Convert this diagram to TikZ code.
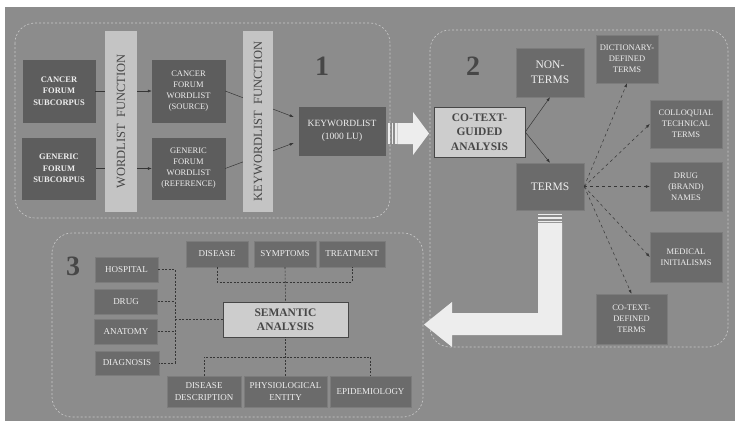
\documentclass[tikz,border=0pt]{standalone}
\usepackage{fontspec}
\setmainfont{Liberation Serif}
\usetikzlibrary{arrows.meta, calc}

\definecolor{bggray}{HTML}{8C8C8C}
\definecolor{boxdark}{HTML}{5D5D5D}
\definecolor{boxmid}{HTML}{6B6B6B}
\definecolor{boxline}{HTML}{7C7C7C}
\definecolor{boxlight}{HTML}{CDCDCD}
\definecolor{barfill}{HTML}{C4C4C4}
\definecolor{arrowfill}{HTML}{EDEDED}
\definecolor{txtlight}{HTML}{EEEEEE}
\definecolor{txtdark}{HTML}{474747}
\definecolor{panelline}{HTML}{C9C9C9}
\definecolor{connline}{HTML}{363636}

\newcommand\fs[2]{\fontsize{#1}{#2}\selectfont}

\begin{document}
\begin{tikzpicture}[x=1pt, y=-1pt, >={Latex[length=4pt,width=3pt]},
  box/.style={draw=boxline, fill=boxmid, text=txtlight, align=center, inner sep=0pt, font=\fs{8.5}{11}},
  srcbox/.style={box, fill=boxdark, draw=boxdark, font=\fs{8.5}{11.5}\bfseries},
  lightbox/.style={box, fill=boxlight, draw=txtdark, text=txtdark, font=\fs{11.5}{14.5}\bfseries},
  bar/.style={fill=barfill, text=txtdark, inner sep=0pt, rotate=90, font=\fs{12.5}{14}},
  panel/.style={draw=panelline, dash pattern=on 2pt off 2pt, line width=.6pt, rounded corners=20pt},
  num/.style={text=txtdark, font=\fs{28}{28}\bfseries},
  conn/.style={draw=connline, line width=.5pt, ->},
  dconn/.style={conn, dashed},
  link/.style={draw=connline, line width=.6pt, dash pattern=on 2pt off 1.5pt}]

  \useasboundingbox (0,0) rectangle (735,421);
  \fill[white] (0,0) rectangle (735,421);
  \fill[bggray] (5,7) rectangle (735,421);

  % panels
  \draw[panel] (15,23) rectangle (390,218);
  \draw[panel] (430,30) rectangle (728,347);
  \draw[panel] (52,233) rectangle (423,417);

  % 1: wordlists
  \node[num] (n1) at (322,66) {1};
  \node[srcbox, minimum width=72, minimum height=62] (canc) at (59,91) {CANCER\\FORUM\\SUBCORPUS};
  \node[srcbox, minimum width=73, minimum height=61] (gen) at (59,168.5) {GENERIC\\FORUM\\SUBCORPUS};
  \node[box, fill=boxdark, draw=boxdark, minimum width=73, minimum height=62] (cwl) at (188.5,91) {CANCER\\FORUM\\WORDLIST\\(SOURCE)};
  \node[box, fill=boxdark, draw=boxdark, minimum width=73, minimum height=61] (gwl) at (188.5,168.5) {GENERIC\\FORUM\\WORDLIST\\(REFERENCE)};
  \node[box, fill=boxdark, draw=boxdark, minimum width=86, minimum height=48, font=\fs{9.5}{13}] (kwl) at (342,131) {KEYWORDLIST\\(1000 LU)};
  \draw[conn] (canc) -- (cwl);
  \draw[conn] (gen) -- (gwl);
  \draw[conn] (cwl.east) -- ($(kwl.west)+(-5,-14)$);
  \draw[conn] (gwl.east) -- ($(kwl.west)+(-5,12)$);
  \node[bar, minimum width=181, minimum height=32] (wlf) at (121,121.5) {WORDLIST\ \ FUNCTION};
  \node[bar, minimum width=181, minimum height=30] (kwf) at (258,121.5) {KEYWORDLIST\ \ FUNCTION};

  % arrow 1 -> 2
  \foreach \s in {388.3,391.7,395}
    \fill[arrowfill] (\s,123) rectangle +(1.7,21);
  \fill[arrowfill] (397.3,123) -- (413,123) -- (413,112) -- (429,133.5) -- (413,155) -- (413,144) -- (397.3,144) -- cycle;

  % 2: co-text
  \node[num] (n2) at (473,66) {2};
  \node[lightbox, minimum width=91, minimum height=50] (cga) at (479.5,132) {CO-TEXT-\\GUIDED\\ANALYSIS};
  \node[box, minimum width=68, minimum height=49, font=\fs{11.5}{15}] (nont) at (550,72.5) {NON-\\TERMS};
  \node[box, minimum width=68, minimum height=47, font=\fs{11.5}{15}] (terms) at (550,186.5) {TERMS};
  \node[box, minimum width=62, minimum height=48] (dict) at (627,59) {DICTIONARY-\\DEFINED\\TERMS};
  \node[box, minimum width=72, minimum height=48] (coll) at (686,124) {COLLOQUIAL\\TECHNICAL\\TERMS};
  \node[box, minimum width=72, minimum height=49] (brand) at (686,186.5) {DRUG\\(BRAND)\\NAMES};
  \node[box, minimum width=72, minimum height=50] (medi) at (686,257) {MEDICAL\\INITIALISMS};
  \node[box, minimum width=71, minimum height=50] (ctd) at (631.5,319) {CO-TEXT-\\DEFINED\\TERMS};
  \draw[conn] (cga.east) -- (nont.south);
  \draw[conn] (cga.east) -- (terms.north);
  \foreach \t/\a in {dict/south, coll/west, brand/west, medi/west, ctd/north}
    \draw[dconn] (terms.east) -- (\t.\a);

  % arrow 2 -> 3
  \foreach \s in {213.8,217.2,220.6}
    \fill[arrowfill] (538,\s) rectangle +(24,1.6);
  \fill[arrowfill] (562,222.8) -- (562,335) -- (452,335) -- (452,347) -- (424,324.5) -- (452,302) -- (452,313) -- (538,313) -- (538,222.8) -- cycle;

  % 3: semantics
  \node[num] (n3) at (73,266) {3};
  \node[lightbox, minimum width=125, minimum height=35] (sem) at (285.5,319.5) {SEMANTIC\\ANALYSIS};
  \begin{scope}[every node/.style={box, font=\fs{9}{12}}]
    \node[minimum width=62, minimum height=26] (dis) at (217,254) {DISEASE};
    \node[minimum width=62, minimum height=26] (sym) at (285,254) {SYMPTOMS};
    \node[minimum width=66, minimum height=26] (trt) at (352,254) {TREATMENT};
    \node[minimum width=63, minimum height=25] (hosp) at (126.5,269.5) {HOSPITAL};
    \node[minimum width=63, minimum height=25] (drug) at (126,301.5) {DRUG};
    \node[minimum width=63, minimum height=25] (anat) at (126,331.5) {ANATOMY};
    \node[minimum width=64, minimum height=24] (diag) at (127,363) {DIAGNOSIS};
    \node[minimum width=74, minimum height=31] (ddesc) at (204,391.5) {DISEASE\\DESCRIPTION};
    \node[minimum width=83, minimum height=31] (phys) at (285.5,391.5) {PHYSIOLOGICAL\\ENTITY};
    \node[minimum width=81, minimum height=31] (epi) at (370.5,391.5) {EPIDEMIOLOGY};
  \end{scope}
  \coordinate (lb) at (175,319.5);
  \coordinate (tb) at (285,282);
  \coordinate (bb) at (285.5,357);
  \draw[link] (hosp.east) -| (lb) |- (diag.east);
  \draw[link] (drug.east) -- (drug.east -| lb);
  \draw[link] (anat.east) -- (anat.east -| lb);
  \draw[link] (lb) -- (sem.west);
  \draw[link] (dis.south) |- (tb) -| (trt.south);
  \draw[link] (sym.south) -- (sem.north);
  \draw[link] (ddesc.north) |- (bb) -| (epi.north);
  \draw[link] (phys.north) -- (sem.south);
\end{tikzpicture}
\end{document}
